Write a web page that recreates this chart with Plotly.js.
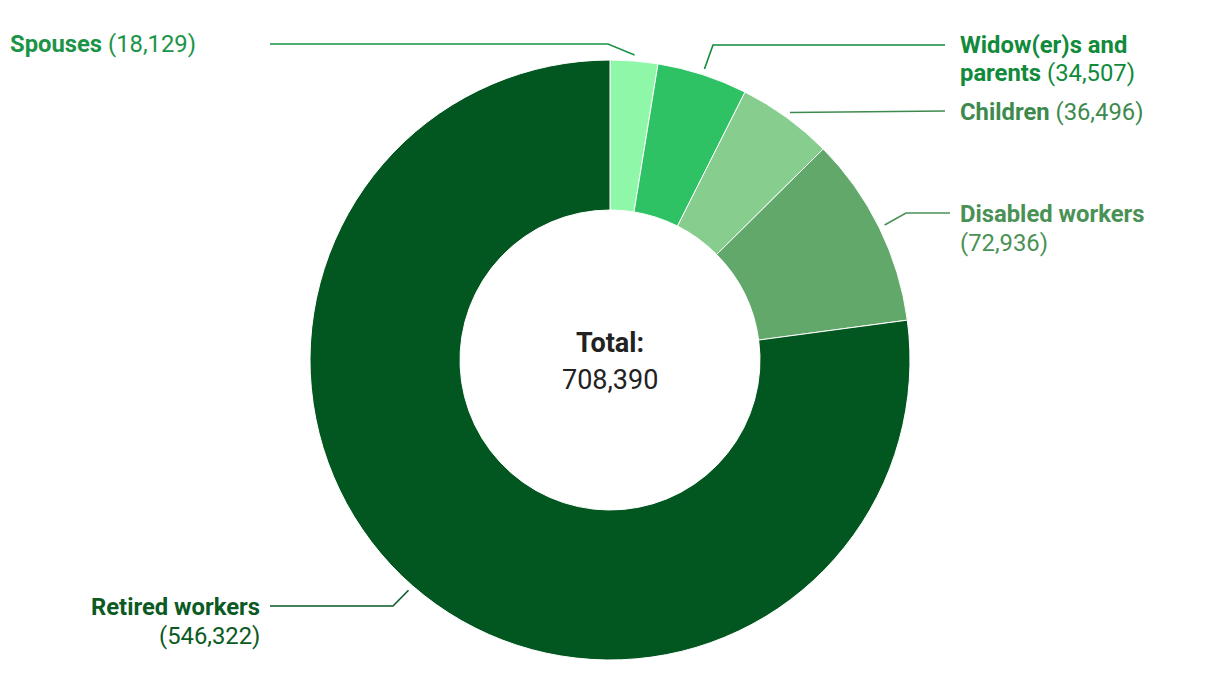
<!DOCTYPE html>
<html>
<head>
<meta charset="utf-8">
<script src="https://cdn.plot.ly/plotly-3.0.1.min.js"></script>
<style>html,body{margin:0;padding:0;background:#fff;}#chart{width:1220px;height:700px;}</style>
</head>
<body>
<div id="chart"></div>
<script>
// ---- data ----
const categories = ["Spouses", "Widow(er)s and parents", "Children", "Disabled workers", "Retired workers"];
const values = [18129, 34507, 36496, 72936, 546322];
const sliceColors = ["#8ef7a8", "#2ec264", "#87cd8e", "#62a86a", "#02561f"];
const textColors = ["#1b9447", "#118a3c", "#3e8a4e", "#4a9155", "#0b5a24"];

const W = 1220, H = 700;
const cx = 610, cy = 360, R = 300;
const total = values.reduce((a, b) => a + b, 0);
const fmt = v => v.toLocaleString('en-US');

// label layout (pixels); each label is a list of lines
const labelPos = [
  {x: 8, anchor: 'left', lines: [[44, '<b>Spouses</b> (VAL)']], elbow: [608, 44], end: [270, 44]},
  {x: 958, anchor: 'left', lines: [[45, '<b>Widow(er)s and</b>'], [73, '<b>parents</b> (VAL)']], elbow: [713, 45], end: [945, 45]},
  {x: 958, anchor: 'left', lines: [[112, '<b>Children</b> (VAL)']], elbow: null, end: [945, 111]},
  {x: 958, anchor: 'left', lines: [[214, '<b>Disabled workers</b>'], [243, '(VAL)']], elbow: [906, 213], end: [950, 213]},
  {x: 262, anchor: 'right', lines: [[607, '<b>Retired workers</b>'], [636, '(VAL)']], elbow: [393, 606], end: [270, 606]}
];

const px = x => x / W;
const py = y => 1 - y / H;

const annotations = [];
const shapes = [];
let cum = 0;
values.forEach((v, i) => {
  const mid = (cum + v / 2) / total * 2 * Math.PI;
  cum += v;
  const sx = cx + (R + 6) * Math.sin(mid);
  const sy = cy - (R + 6) * Math.cos(mid);
  const L = labelPos[i];
  let path = `M ${px(sx)} ${py(sy)}`;
  if (L.elbow) path += ` L ${px(L.elbow[0])} ${py(L.elbow[1])}`;
  path += ` L ${px(L.end[0])} ${py(L.end[1])}`;
  shapes.push({type: 'path', xref: 'paper', yref: 'paper', path: path,
    line: {color: textColors[i], width: 1.6}});
  L.lines.forEach(([ly, t]) => {
    annotations.push({xref: 'paper', yref: 'paper', x: px(L.x), y: py(ly),
      xanchor: L.anchor, yanchor: 'middle', align: L.anchor, showarrow: false,
      text: t.replace('VAL', fmt(v)),
      font: {family: 'Roboto, sans-serif', size: 23.8, color: textColors[i]}});
  });
});

annotations.push({xref: 'paper', yref: 'paper', x: px(cx), y: py(343), xanchor: 'center', yanchor: 'middle',
  showarrow: false, text: '<b>Total:</b>',
  font: {family: 'Roboto, sans-serif', size: 27, color: '#222222'}});
annotations.push({xref: 'paper', yref: 'paper', x: px(cx), y: py(380), xanchor: 'center', yanchor: 'middle',
  showarrow: false, text: fmt(total),
  font: {family: 'Roboto, sans-serif', size: 27, color: '#222222'}});

const trace = {
  type: 'pie', labels: categories, values: values, hole: 0.5,
  sort: false, direction: 'clockwise', rotation: 0,
  marker: {colors: sliceColors, line: {color: '#ffffff', width: 1}},
  textinfo: 'none', hoverinfo: 'label+value', showlegend: false,
  domain: {x: [px(cx - R), px(cx + R)], y: [py(cy + R), py(cy - R)]}
};

Plotly.newPlot('chart', [trace], {
  width: W, height: H, margin: {l: 0, r: 0, t: 0, b: 0},
  paper_bgcolor: '#ffffff', showlegend: false,
  annotations: annotations, shapes: shapes,
  font: {family: 'Roboto, sans-serif'}
}, {displayModeBar: false, staticPlot: true});
</script>
</body>
</html>
